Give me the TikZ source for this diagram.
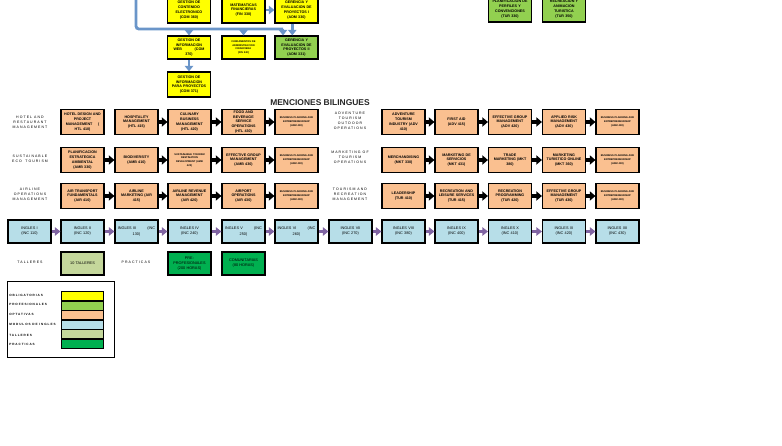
\documentclass[tikz,border=0pt]{standalone}
\usepackage{fontspec}
\setmainfont{Liberation Sans}
\setsansfont{Liberation Sans}
\newfontfamily\widefont[LetterSpace=30]{Liberation Sans}
\usetikzlibrary{arrows.meta}

\definecolor{oblyellow}{HTML}{FFFF00}
\definecolor{profgreen}{HTML}{92D050}
\definecolor{optorange}{HTML}{FAC090}
\definecolor{inglblue}{HTML}{B7DEE8}
\definecolor{tallolive}{HTML}{C4D79B}
\definecolor{pracgreen}{HTML}{00B050}
\definecolor{busblue}{HTML}{6A95C9}
\definecolor{arrpurple}{HTML}{8064A2}

\begin{document}
\begin{tikzpicture}[x=0.025cm,y=-0.025cm,
  box/.style={draw,line width=0.8pt,minimum width=1.075cm,minimum height=0.575cm,
    text width=1.0cm,align=center,inner sep=0pt,
    font=\fontsize{2.6}{3.4}\selectfont\bfseries},
  oblig/.style={box,fill=oblyellow},
  prof/.style={box,fill=profgreen},
  opt/.style={box,fill=optorange,minimum height=0.625cm},
  ingl/.style={box,fill=inglblue,font=\fontsize{2.7}{3.6}\selectfont},
  tall/.style={box,fill=tallolive,font=\fontsize{2.7}{3.6}\selectfont},
  prac/.style={box,fill=pracgreen,font=\fontsize{2.7}{3.6}\selectfont},
  tinytext/.style={font=\fontsize{1.8}{2.6}\selectfont\bfseries},
  mlabel/.style={align=center,inner sep=0pt,font=\widefont\fontsize{2.5}{3.6}\selectfont},
  keytext/.style={anchor=west,inner sep=0pt,font=\widefont\fontsize{2.2}{3}\selectfont\bfseries},
  swatch/.style={draw,line width=0.5pt,minimum width=1.05cm,minimum height=0.225cm,inner sep=0pt},
  bus/.style={draw=busblue,line width=2pt},
  busarr/.style={bus,-{Triangle[length=4pt,width=6pt]}},
  arr/.style={line width=2.4pt,-{Triangle[length=4pt,width=6.5pt]}},
  parr/.style={arrpurple,line width=2.4pt,-{Triangle[length=4pt,width=6pt]}}]

\useasboundingbox (0,0) rectangle (782,446);
\clip (0,0) rectangle (782,446);

% upper part
\node[oblig,minimum height=0.65cm] (gce) at (189,10) {GESTION DE\\CONTENIDO\\ELECTRONICO\\(COM 360)};
\node[oblig,minimum height=0.65cm] (mfin) at (243.5,10) {MATEMATICAS\\FINANCIERAS\\(FIN 330)};
\node[oblig,minimum height=0.65cm] (gep1) at (296.5,10) {GERENCIA Y\\EVALUACION DE\\PROYECTOS I\\(ADM 330)};
\node[prof,minimum height=0.65cm] (ptur) at (510,9) {PLANIFICACION DE\\PERFILES Y\\CONVENCIONES\\(TUR 330)};
\node[prof,minimum height=0.65cm] (rtur) at (564,9) {RECREACION Y\\ANIMACION\\TURISTICA\\(TUR 350)};
\node[oblig] (giw) at (189,47.5) {GESTION DE\\INFORMACION\\WEB\hspace{9pt}(COM\\370)};
\node[oblig,tinytext] (fadm) at (243.5,47.5) {FUNDAMENTOS DE\\ADMINISTRACION\\FINANCIERA\\(FIN 340)};
\node[prof] (gep2) at (296.5,47.5) {GERENCIA Y\\EVALUACION DE\\PROYECTOS II\\(ADM 331)};
\node[oblig,minimum height=0.625cm] (gip) at (189,84.5) {GESTION DE\\INFORMACION\\PARA PROYECTOS\\(COM 371)};

\coordinate (bustop) at (136,-2);
\coordinate (buscorner) at (283,29);
\draw[bus,rounded corners=2pt] (bustop) |- (buscorner);
\draw[busarr] (buscorner) -- (buscorner |- gep2.north);
\draw[busarr] (giw.north |- buscorner) -- (giw.north);
\draw[busarr] (fadm.north |- buscorner) -- (fadm.north);
\draw[busarr] (mfin) -- (gep1);
\draw[busarr] ([xshift=-3pt]gep1.south) -- ([xshift=-3pt]gep2.north);
\draw[busarr] (giw) -- (gip);

\node[font=\fontsize{6}{7}\selectfont\bfseries,text=black!85] (mtitle) at (320,103) {MENCIONES BILINGUES};

% menciones
\node[mlabel] (lhtl) at (30,122) {HOTEL AND\\RESTAURANT\\MANAGEMENT};
\node[opt] (h1) at (82.5,122) {HOTEL DESIGN AND\\PROJECT\\MANAGEMENT\hspace{4pt}(\\HTL 410)};
\node[opt] (h2) at (136.5,122) {HOSPITALITY\\MANAGEMENT\\(HTL 415)};
\node[opt] (h3) at (189.5,122) {CULINARY\\BUSINESS\\MANAGEMENT\\(HTL 420)};
\node[opt] (h4) at (243.5,122) {FOOD AND\\BEVERAGE\\SERVICE\\OPERATIONS\\(HTL 430)};
\node[opt,tinytext] (h5) at (296.5,122) {BUSINESS PLANNING AND\\ENTREPRENEURSHIP\\(ADM 490)};
\node[mlabel] (ladv) at (350,121) {ADVENTURE\\TOURISM\\OUTDOOR\\OPERATIONS};
\node[opt] (a1) at (403.5,122) {ADVENTURE\\TOURISM\\INDUSTRY (ADV\\410)};
\node[opt] (a2) at (456.5,122) {FIRST AID\\(ADV 415)};
\node[opt] (a3) at (510,122) {EFFECTIVE GROUP\\MANAGEMENT\\(ADV 420)};
\node[opt] (a4) at (564,122) {APPLIED RISK\\MANAGEMENT\\(ADV 430)};
\node[opt,tinytext] (a5) at (617.5,122) {BUSINESS PLANNING AND\\ENTREPRENEURSHIP\\(ADM 490)};

\node[mlabel] (lsus) at (30,158.5) {SUSTAINABLE\\ECO\quad TOURISM};
\node[opt] (s1) at (82.5,160) {PLANIFICACION\\ESTRATEGICA\\AMBIENTAL\\(AMB 330)};
\node[opt] (s2) at (136.5,160) {BIODIVERSITY\\(AMB 410)};
\node[opt,tinytext] (s3) at (189.5,160) {SUSTAINABLE TOURISM\\DESTINATION\\DEVELOPMENT (AMB\\420)};
\node[opt] (s4) at (243.5,160) {EFFECTIVE GROUP\\MANAGEMENT\\(AMB 430)};
\node[opt,tinytext] (s5) at (296.5,160) {BUSINESS PLANNING AND\\ENTREPRENEURSHIP\\(ADM 490)};
\node[mlabel] (lmkt) at (350,157) {MARKETING OF\\TOURISM\\OPERATIONS};
\node[opt] (m1) at (403.5,160) {MERCHANDISING\\(MKT 330)};
\node[opt] (m2) at (456.5,160) {MARKETING DE\\SERVICIOS\\(MKT 431)};
\node[opt] (m3) at (510,160) {TRADE\\MARKETING (MKT\\380)};
\node[opt] (m4) at (564,160) {MARKETING\\TURISTICO ONLINE\\(MKT 360)};
\node[opt,tinytext] (m5) at (617.5,160) {BUSINESS PLANNING AND\\ENTREPRENEURSHIP\\(ADM 490)};

\node[mlabel] (lair) at (30,194.5) {AIRLINE\\OPERATIONS\\MANAGEMENT};
\node[opt] (r1) at (82.5,196) {AIR TRANSPORT\\FUNDAMENTALS\\(AIR 410)};
\node[opt] (r2) at (136.5,196) {AIRLINE\\MARKETING (AIR\\415)};
\node[opt] (r3) at (189.5,196) {AIRLINE REVENUE\\MANAGEMENT\\(AIR 420)};
\node[opt] (r4) at (243.5,196) {AIRPORT\\OPERATIONS\\(AIR 430)};
\node[opt,tinytext] (r5) at (296.5,196) {BUSINESS PLANNING AND\\ENTREPRENEURSHIP\\(ADM 490)};
\node[mlabel] (ltur) at (350,194) {TOURISM AND\\RECREATION\\MANAGEMENT};
\node[opt] (t1) at (403.5,196) {LEADERSHIP\\(TUR 410)};
\node[opt] (t2) at (456.5,196) {RECREATION AND\\LEISURE SERVICES\\(TUR 415)};
\node[opt] (t3) at (510,196) {RECREATION\\PROGRAMMING\\(TUR 420)};
\node[opt] (t4) at (564,196) {EFFECTIVE GROUP\\MANAGEMENT\\(TUR 430)};
\node[opt,tinytext] (t5) at (617.5,196) {BUSINESS PLANNING AND\\ENTREPRENEURSHIP\\(ADM 490)};

\draw[arr] (h2) -- (h3);
\draw[arr] (h3) -- (h4);
\draw[arr] (h4) -- (h5);
\draw[arr] (a1) -- (a2);
\draw[arr] (a2) -- (a3);
\draw[arr] (a3) -- (a4);
\draw[arr] (a4) -- (a5);
\draw[arr] (s1) -- (s2);
\draw[arr] (s2) -- (s3);
\draw[arr] (s3) -- (s4);
\draw[arr] (s4) -- (s5);
\draw[arr] (m1) -- (m2);
\draw[arr] (m2) -- (m3);
\draw[arr] (m3) -- (m4);
\draw[arr] (m4) -- (m5);
\draw[arr] (r1) -- (r2);
\draw[arr] (r2) -- (r3);
\draw[arr] (r3) -- (r4);
\draw[arr] (r4) -- (r5);
\draw[arr] (t1) -- (t2);
\draw[arr] (t2) -- (t3);
\draw[arr] (t3) -- (t4);
\draw[arr] (t4) -- (t5);

% ingles
\node[ingl] (i1) at (29.5,231.5) {INGLES I\\(INC 110)};
\node[ingl] (i2) at (82.5,231.5) {INGLES II\\(INC 120)};
\node[ingl] (i3) at (136.5,231.5) {INGLES III\hspace{8pt}(INC\\130)};
\node[ingl] (i4) at (189.5,231.5) {INGLES IV\\(INC 240)};
\node[ingl] (i5) at (243.5,231.5) {INGLES V\hspace{8pt}(INC\\250)};
\node[ingl] (i6) at (296.5,231.5) {INGLES VI\hspace{8pt}(INC\\260)};
\node[ingl] (i7) at (350.5,231.5) {INGLES VII\\(INC 270)};
\node[ingl] (i8) at (403.5,231.5) {INGLES VIII\\(INC 380)};
\node[ingl] (i9) at (456.5,231.5) {INGLES IX\\(INC 400)};
\node[ingl] (i10) at (510,231.5) {INGLES X\\(INC 410)};
\node[ingl] (i11) at (564,231.5) {INGLES XI\\(INC 420)};
\node[ingl] (i12) at (617.5,231.5) {INGLES XII\\(INC 430)};

\draw[parr] (i1) -- (i2);
\draw[parr] (i2) -- (i3);
\draw[parr] (i3) -- (i4);
\draw[parr] (i4) -- (i5);
\draw[parr] (i5) -- (i6);
\draw[parr] (i6) -- (i7);
\draw[parr] (i7) -- (i8);
\draw[parr] (i8) -- (i9);
\draw[parr] (i9) -- (i10);
\draw[parr] (i10) -- (i11);
\draw[parr] (i11) -- (i12);

% talleres y practicas
\node[mlabel] (ltal) at (30,262) {TALLERES};
\node[tall] (tal) at (82.5,263.5) {10 TALLERES};
\node[mlabel] (lpra) at (136,262) {PRACTICAS};
\node[prac] (ppre) at (189.5,263.5) {PRE-\\PROFESIONALES\\(200 HORAS)};
\node[prac] (pcom) at (243.5,263.5) {COMUNITARIAS\\(80 HORAS)};

% leyenda
\node[draw,line width=0.6pt,minimum width=2.675cm,minimum height=1.9cm,inner sep=0pt] (legend) at (60.5,319) {};
\node[swatch,fill=oblyellow] (kobl) at (82.5,296) {};
\node[swatch,fill=profgreen] (kpro) at (82.5,305.5) {};
\node[swatch,fill=optorange] (kopt) at (82.5,315) {};
\node[swatch,fill=inglblue] (king) at (82.5,324.5) {};
\node[swatch,fill=tallolive] (ktal) at (82.5,334) {};
\node[swatch,fill=pracgreen] (kpra) at (82.5,343.5) {};
\node[keytext] (tobl) at (9,295) {OBLIGATORIAS};
\node[keytext] (tpro) at (9,304.5) {PROFESIONALES};
\node[keytext] (topt) at (9,314.5) {OPTATIVAS};
\node[keytext] (ting) at (9,324) {MODULOS DE INGLES};
\node[keytext] (ttal) at (9,335) {TALLERES};
\node[keytext] (tpra) at (9,344) {PRACTICAS};
\end{tikzpicture}
\end{document}
